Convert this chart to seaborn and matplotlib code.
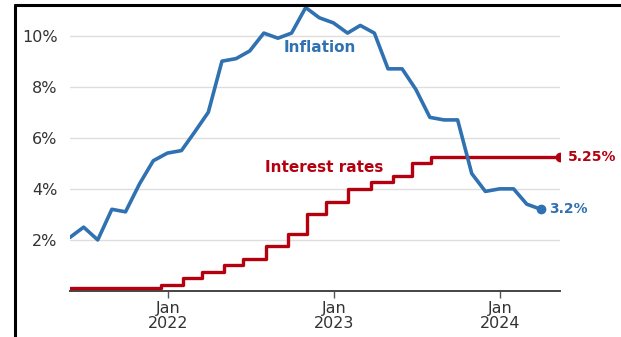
import matplotlib
matplotlib.use("Agg")
import matplotlib.pyplot as plt
from matplotlib.lines import Line2D
import seaborn as sns
import pandas as pd

# UK CPI inflation (%), monthly, May 2021 - Mar 2024 (plotted at month end)
cpi_months = pd.date_range("2021-05-01", "2024-03-01", freq="MS")
cpi_values = [2.1, 2.5, 2.0, 3.2, 3.1, 4.2, 5.1, 5.4,
              5.5, 6.2, 7.0, 9.0, 9.1, 9.4, 10.1, 9.9, 10.1, 11.1, 10.7, 10.5,
              10.1, 10.4, 10.1, 8.7, 8.7, 7.9, 6.8, 6.7, 6.7, 4.6, 3.9, 4.0,
              4.0, 3.4, 3.2]

# Bank Rate decisions (%)
rate_dates = ["2021-05-31", "2021-12-16", "2022-02-03", "2022-03-17", "2022-05-05",
              "2022-06-16", "2022-08-04", "2022-09-22", "2022-11-03", "2022-12-15",
              "2023-02-02", "2023-03-23", "2023-05-11", "2023-06-22", "2023-08-03",
              "2024-05-12"]
rate_values = [0.1, 0.25, 0.5, 0.75, 1.0, 1.25, 1.75, 2.25, 3.0, 3.5,
               4.0, 4.25, 4.5, 5.0, 5.25, 5.25]

tick_years = [2022, 2023, 2024]

BLUE = "#3071b1"
RED = "#b5000f"

cpi = pd.DataFrame({"date": cpi_months + pd.offsets.MonthEnd(0), "value": cpi_values})
rates = pd.DataFrame({"date": pd.to_datetime(rate_dates), "value": rate_values})

sns.set_theme(style="white")
plt.rcParams["font.family"] = ["DejaVu Sans"]

fig = plt.figure(figsize=(6.21, 3.37), dpi=100)
W, H = 621, 337
ax = fig.add_axes([70 / W, 1 - 291 / H, (560 - 70) / W, (291 - 5) / H])

for y in [2, 4, 6, 8, 10]:
    ax.axhline(y, color="#dedede", lw=1.0, zorder=0)

sns.lineplot(data=rates, x="date", y="value", ax=ax, color=RED, lw=2.4,
             drawstyle="steps-post", zorder=3)
sns.lineplot(data=cpi, x="date", y="value", ax=ax, color=BLUE, lw=2.6, zorder=4)

last_rate = rates.iloc[-1]
last_cpi = cpi.iloc[-1]
ax.plot(last_rate["date"], last_rate["value"], "o", color=RED, ms=6, zorder=5)
ax.plot(last_cpi["date"], last_cpi["value"], "o", color=BLUE, ms=6, zorder=5)

ax.annotate(f"{last_rate['value']:.2f}%", (last_rate["date"], last_rate["value"]),
            xytext=(6, 0), textcoords="offset points", va="center", ha="left",
            color=RED, fontsize=10, fontweight="bold", annotation_clip=False)
ax.annotate(f"{last_cpi['value']:.1f}%", (last_cpi["date"], last_cpi["value"]),
            xytext=(6, 0), textcoords="offset points", va="center", ha="left",
            color=BLUE, fontsize=10, fontweight="bold", annotation_clip=False)

ax.text(pd.Timestamp("2022-12-01"), 9.55, "Inflation", color=BLUE, fontsize=11,
        fontweight="bold", ha="center", va="center")
ax.text(pd.Timestamp("2022-12-10"), 4.85, "Interest rates", color=RED, fontsize=11,
        fontweight="bold", ha="center", va="center")

ax.set_xlim(pd.Timestamp("2021-05-31"), pd.Timestamp("2024-05-12"))
ax.set_ylim(0, 11.2)

ax.set_yticks([2, 4, 6, 8, 10])
ax.set_yticklabels([f"{v}%" for v in [2, 4, 6, 8, 10]])
ax.set_xticks([pd.Timestamp(f"{y}-01-01") for y in tick_years])
ax.set_xticklabels([f"Jan\n{y}" for y in tick_years], linespacing=1.05)
ax.tick_params(axis="y", length=0, pad=9, labelsize=11.5, labelcolor="#333333")
ax.tick_params(axis="x", length=5, width=1, color="#555555", pad=2,
               labelsize=11.5, labelcolor="#333333", direction="out", bottom=True)

for side in ["top", "right", "left"]:
    ax.spines[side].set_visible(False)
ax.spines["bottom"].set_color("#444444")
ax.spines["bottom"].set_linewidth(1.4)
ax.set_xlabel("")
ax.set_ylabel("")

# frame around the graphic
fig.add_artist(Line2D([15 / W, 1], [1 - 5 / H, 1 - 5 / H], color="black", lw=2.2,
                      transform=fig.transFigure))
fig.add_artist(Line2D([15 / W, 15 / W], [0, 1 - 5 / H], color="black", lw=2.2,
                      transform=fig.transFigure))

fig.savefig("out.png", dpi=100)
